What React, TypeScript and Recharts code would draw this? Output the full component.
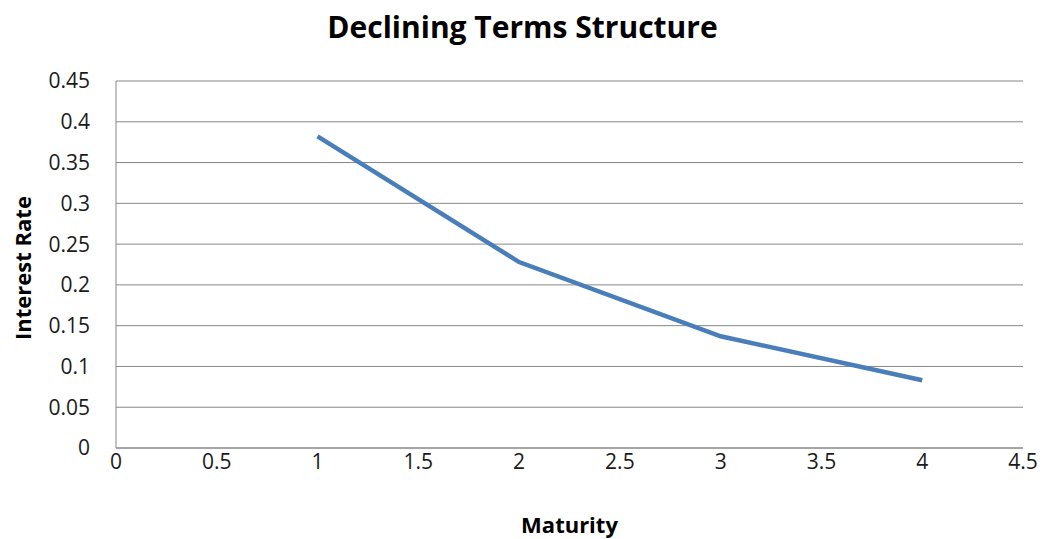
import React from 'react';
import { LineChart, Line, XAxis, YAxis, CartesianGrid, Label } from 'recharts';

const maturities = [1, 2, 3, 4];
const rates = [0.382, 0.228, 0.137, 0.083];
const xTicks = [0, 0.5, 1, 1.5, 2, 2.5, 3, 3.5, 4, 4.5];
const yTicks = [0, 0.05, 0.1, 0.15, 0.2, 0.25, 0.3, 0.35, 0.4, 0.45];

const data = maturities.map((m, i) => ({ maturity: m, rate: rates[i] }));

const font = '"Open Sans", "Liberation Sans", sans-serif';
const tickStyle = { fontSize: 21, fill: '#1a1a1a', fontFamily: font };
const axisTitleStyle = { fontSize: 22, fontWeight: 700, fontFamily: font, fill: '#000' };

const YTitle = () => (
  <text
    x={22}
    y={268}
    transform="rotate(-90 22 268)"
    textAnchor="middle"
    dominantBaseline="central"
    style={axisTitleStyle}
  >
    Interest Rate
  </text>
);

export default function App() {
  return (
    <div style={{ position: 'relative', width: 1045, height: 539, background: '#fff' }}>
      <style>{'body{margin:0}'}</style>
      <div
        style={{
          position: 'absolute',
          top: 8,
          left: 0,
          width: 1045,
          textAlign: 'center',
          fontFamily: font,
          fontWeight: 700,
          fontSize: 30,
          lineHeight: '38px',
          color: '#000',
          zIndex: 1,
        }}
      >
        Declining Terms Structure
      </div>
      <LineChart width={1045} height={539} data={data} margin={{ top: 81, right: 22, bottom: 0, left: 0 }}>
        <CartesianGrid vertical={false} stroke="#878787" strokeWidth={1} />
        <XAxis
          type="number"
          dataKey="maturity"
          domain={[0, 4.5]}
          ticks={xTicks}
          height={91}
          tickLine={false}
          tickSize={0}
          tickMargin={6}
          axisLine={{ stroke: '#878787' }}
          tick={tickStyle}
        >
          <Label value="Maturity" position="insideBottom" offset={6} style={axisTitleStyle} />
        </XAxis>
        <YAxis
          type="number"
          domain={[0, 0.45]}
          ticks={yTicks}
          width={116}
          tickLine={false}
          tickSize={0}
          tickMargin={26}
          axisLine={{ stroke: '#878787' }}
          tick={tickStyle}
        >
          <Label content={<YTitle />} />
        </YAxis>
        <Line
          type="linear"
          dataKey="rate"
          stroke="#4a7ebb"
          strokeWidth={4.5}
          dot={false}
          isAnimationActive={false}
        />
      </LineChart>
    </div>
  );
}
